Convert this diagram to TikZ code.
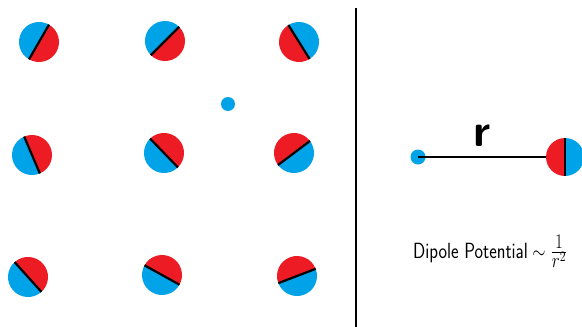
\documentclass[tikz,border=0pt]{standalone}
\definecolor{pblue}{RGB}{0,162,232}
\definecolor{pred}{RGB}{237,28,36}
\tikzset{
  dline/.style={line width=2.2pt, black},
  divider/.style={line width=2pt, black},
  rline/.style={line width=2pt, black},
  smalldot/.style={circle, fill=pblue, inner sep=0pt, minimum size=14pt},
}
% #1 x, #2 y (image px), #3 angle pointing to blue half, #4 radius
\newcommand{\dipoleAt}[4]{%
  \fill[pblue] (#1,-#2) ++({#3-90}:#4) arc[start angle={#3-90}, end angle={#3+90}, radius=#4] -- cycle;
  \fill[pred] (#1,-#2) ++({#3+90}:#4) arc[start angle={#3+90}, end angle={#3+270}, radius=#4] -- cycle;
  \draw[dline] (#1,-#2) ++({#3+90}:#4) -- ++({#3-90}:{2*#4});
}
\begin{document}
\begin{tikzpicture}[x=1pt,y=1pt]
\useasboundingbox (0,0) rectangle (582,-327);
\clip (0,0) rectangle (582,-327);
% left grid of dipoles
\dipoleAt{39}{42}{150}{20}
\dipoleAt{165}{41}{135}{20}
\dipoleAt{299}{42}{32}{20}
\dipoleAt{32}{155}{203}{20}
\dipoleAt{164}{153}{224}{20}
\dipoleAt{294}{153}{307}{20}
\dipoleAt{28}{277}{222}{20}
\dipoleAt{162}{275}{241}{20}
\dipoleAt{297}{276}{291}{20}
\node[smalldot] (q) at (228,-104) {};
% divider
\coordinate (dtop) at (356,-8);
\coordinate (dbot) at (356,-327);
\draw[divider] (dtop) -- (dbot);
% right panel
\node[smalldot, minimum size=15pt] (charge) at (418,-157) {};
\coordinate (dip) at (565,-157);
\draw[rline] (charge.center) -- (dip);
\dipoleAt{565}{157}{0}{19}
\node (rlab) at (482,-136) {\fontsize{46}{46}\selectfont\sffamily\bfseries r};
\node[anchor=base west, inner sep=0pt, xscale=0.82] (txt) at (413,-258) {\fontsize{22}{24}\selectfont\sffamily Dipole Potential\hspace{0.25em}$\sim$\hspace{0.3em}{\fontsize{28}{30}\selectfont$\frac{1}{r^2}$}};
\end{tikzpicture}
\end{document}
